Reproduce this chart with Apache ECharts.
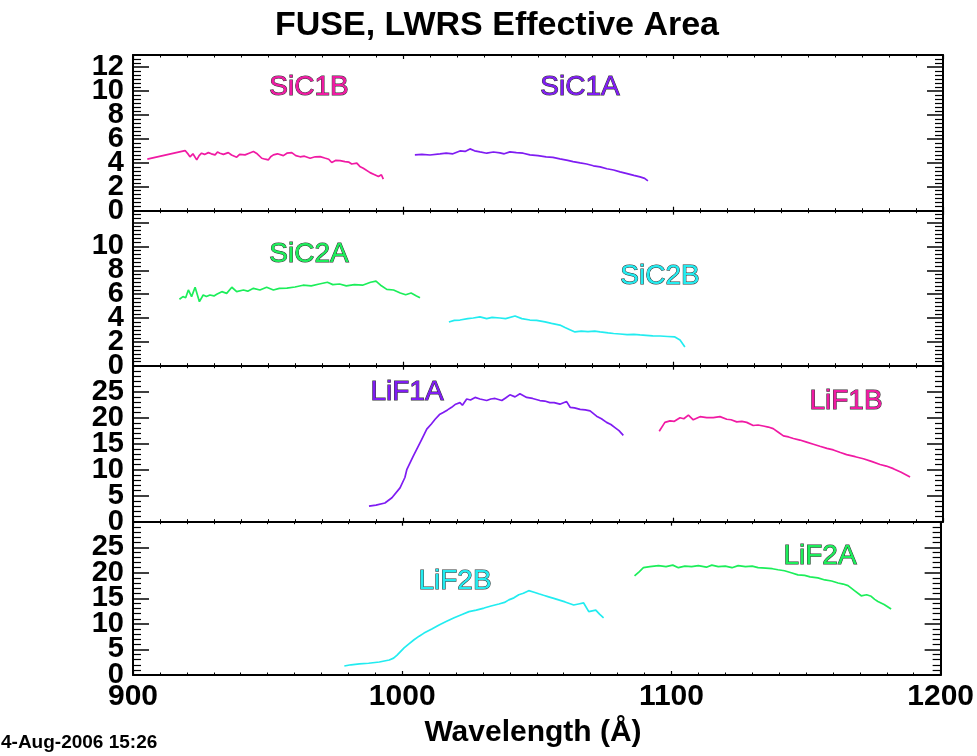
<!DOCTYPE html>
<html>
<head>
<meta charset="utf-8">
<script src="https://cdn.jsdelivr.net/npm/echarts@6/dist/echarts.min.js"></script>
<style>html,body{margin:0;padding:0;background:#fff}#c{width:977px;height:756px}</style>
</head>
<body>
<div id="c"></div>
<script>
// ---- data (wavelength in Å, effective area in cm^2) ----
const sic1b = [[905.3,4.30],[919.3,5.02],[920.5,4.7],[921.1,4.5],[922.2,4.75],[923.6,4.24],[924.5,4.6],[925.4,4.8],[926.5,4.7],[927.9,4.85],[929,4.75],[930.4,4.66],[931.3,4.9],[932.2,4.8],[933.5,4.7],[935.3,4.85],[936.5,4.65],[938.4,4.47],[939.5,4.7],[941.5,4.66],[943,4.8],[944.6,4.94],[946,4.75],[947.7,4.38],[949,4.3],[950.1,4.24],[951,4.5],[952,4.66],[953.5,4.75],[955.7,4.6],[957,4.8],[958.8,4.85],[960.3,4.6],[961.9,4.5],[963.5,4.55],[965.6,4.38],[967.5,4.5],[969.3,4.52],[971,4.4],[972.5,4.3],[973.6,4.02],[975,4.2],[976.7,4.18],[978.5,4.1],[980,4.05],[981,3.9],[982.9,3.97],[984,3.7],[985.3,3.55],[987.8,3.18],[989.5,3.0],[990.9,2.85],[992,3.0],[992.7,2.63]];
const sic1a = [[1004.4,4.66],[1007,4.7],[1010,4.65],[1013.7,4.74],[1016,4.8],[1018.5,4.75],[1021.1,4.99],[1023,4.95],[1024.8,5.16],[1026.5,5.0],[1028.5,4.91],[1031,4.8],[1033.5,4.9],[1035.9,4.83],[1037.5,4.75],[1039.6,4.91],[1042,4.85],[1044.5,4.8],[1047,4.66],[1050,4.6],[1053,4.5],[1055.5,4.45],[1058.1,4.33],[1061,4.2],[1063,4.1],[1065.6,3.99],[1068,3.9],[1070.5,3.75],[1073,3.66],[1075.5,3.5],[1078,3.4],[1080.4,3.24],[1083,3.1],[1085.5,2.95],[1087.8,2.82],[1089.5,2.7],[1090.7,2.49]];
const sic2a = [[917.2,5.57],[918.5,5.8],[919.5,5.7],[920.5,6.35],[921.7,5.79],[923,6.58],[924.6,5.37],[926,5.93],[927.2,5.8],[928.5,5.93],[930,5.85],[931,5.99],[932.9,6.21],[934.7,6.07],[936.6,6.58],[938.4,6.21],[940.9,6.35],[942.5,6.25],[944.6,6.49],[947,6.35],[949.5,6.58],[952,6.35],[954.2,6.49],[957,6.5],[960,6.6],[963,6.75],[966,6.7],[969,6.85],[972,7.0],[974,6.8],[976.5,6.85],[979,6.7],[982,6.8],[985,6.75],[988,7.0],[990,7.1],[992,6.7],[994,6.4],[996.5,6.35],[999,6.1],[1001,5.95],[1003,6.1],[1005,5.85],[1006.3,5.7]];
const sic2b = [[1017,3.67],[1019,3.8],[1021.1,3.83],[1024,3.95],[1026,4.0],[1028.5,4.09],[1031,3.95],[1033,4.05],[1035.9,4.0],[1038,3.95],[1041.5,4.17],[1044,3.95],[1047,3.83],[1049.5,3.8],[1052.6,3.67],[1055,3.55],[1058.1,3.41],[1060,3.2],[1062,3.0],[1063.7,2.83],[1066,2.9],[1068.5,2.85],[1071,2.9],[1073,2.83],[1076,2.75],[1078,2.7],[1080.4,2.66],[1083,2.6],[1085.5,2.62],[1087.8,2.58],[1090,2.55],[1092.5,2.5],[1095.2,2.49],[1098,2.45],[1100.7,2.41],[1102.6,2.16],[1104.4,1.57]];
const lif1a = [[987.4,3.0],[990,3.2],[993.3,3.6],[995.9,4.6],[998.9,6.5],[1000.7,8.5],[1001.4,10.0],[1003.8,12.6],[1006.9,15.8],[1008.8,17.8],[1010.5,18.8],[1011.9,19.7],[1013.5,20.6],[1014.9,21.0],[1016.5,21.5],[1018,22.0],[1019.5,22.6],[1021.1,22.9],[1022,22.4],[1023.6,23.6],[1025,23.4],[1026.7,23.9],[1028.5,23.6],[1031,23.3],[1032.5,23.6],[1034.1,23.7],[1036.6,23.3],[1038,23.8],[1039.6,24.4],[1041.5,24.0],[1043.3,24.6],[1045.8,23.9],[1048,23.7],[1050.7,23.3],[1052.5,23.2],[1054.4,22.9],[1056,22.9],[1058.1,22.6],[1060.6,23.1],[1061.9,22.0],[1063.5,21.9],[1065.6,21.6],[1067.5,21.5],[1069.3,21.3],[1071.7,20.3],[1073.5,19.8],[1075.4,19.1],[1077,18.7],[1078.5,18.1],[1080,17.5],[1081.6,16.6]];
const lif1b = [[1094.9,17.4],[1097,19.1],[1098.9,19.4],[1100.5,19.3],[1102.6,20.0],[1104,19.8],[1105.7,20.5],[1107.5,19.6],[1110,20.2],[1112.5,20.0],[1114.9,20.0],[1117.4,20.2],[1119.9,19.7],[1121.5,19.6],[1123.6,19.2],[1125.5,19.3],[1127.3,19.1],[1129.7,18.5],[1131.5,18.6],[1133.4,18.4],[1135.3,18.2],[1137.1,17.9],[1139,17.2],[1140.9,16.5],[1142.8,16.3],[1144.6,16.0],[1147,15.7],[1149.5,15.3],[1152,14.9],[1154.4,14.5],[1157,14.1],[1159.4,13.8],[1162,13.3],[1164.3,12.9],[1167.5,12.5],[1170.5,12.1],[1173.5,11.6],[1176.7,11.0],[1179,10.7],[1181.6,10.2],[1184.5,9.5],[1187.8,8.6]];
const lif2b = [[978.5,1.76],[981,2.0],[984.1,2.16],[987.5,2.3],[991.5,2.55],[995.2,2.94],[996.8,3.3],[998.1,3.9],[1000.7,5.3],[1002.5,6.1],[1004.4,6.9],[1006.3,7.6],[1008.1,8.2],[1011,9.0],[1013.7,9.8],[1016.5,10.5],[1019.3,11.2],[1022,11.8],[1024.8,12.4],[1027.5,12.7],[1030.4,13.1],[1033,13.5],[1035.9,13.9],[1038,14.2],[1039.6,14.7],[1041.5,15.1],[1043.3,15.7],[1045,16.0],[1047,16.5],[1049,16.2],[1050.7,15.9],[1052.5,15.6],[1054.4,15.3],[1056.3,15.0],[1058.1,14.7],[1060.5,14.3],[1063.7,13.7],[1065.5,13.9],[1067.4,14.1],[1069.3,12.4],[1071.9,12.7],[1073.3,11.9],[1074.8,11.2]];
const lif2a = [[1086.3,19.4],[1088,20.2],[1089.6,21.0],[1092,21.2],[1095.2,21.4],[1098,21.2],[1100.5,21.5],[1102.6,21.0],[1105,21.3],[1107.5,21.2],[1110,21.4],[1113,21.1],[1115,21.5],[1117.4,21.2],[1120,21.3],[1122.5,21.0],[1124.8,21.4],[1127.5,21.2],[1130,21.3],[1132.2,21.0],[1135,20.9],[1137.5,20.8],[1139.6,20.6],[1142,20.4],[1144.5,20.0],[1147,19.6],[1149.5,19.5],[1151.5,19.2],[1154.4,19.0],[1157,18.6],[1159.5,18.4],[1161.9,18.0],[1163.8,17.8],[1165.6,17.5],[1168,16.5],[1170.5,15.5],[1172.5,15.7],[1174.2,15.4],[1175.5,14.8],[1176.7,14.4],[1179,13.8],[1181.6,12.9]];

const xTicks = [900, 1000, 1100, 1200];
const panelYMax = [13, 13, 30, 30];
const panelYStep = [2, 2, 5, 5];
const panelLastLabel = [12, 10, 25, 25];
const seriesNames = ['SiC1B','SiC1A','SiC2A','SiC2B','LiF1A','LiF1B','LiF2B','LiF2A'];
const seriesData = [sic1b, sic1a, sic2a, sic2b, lif1a, lif1b, lif2b, lif2a];
const seriesPanel = [0, 0, 1, 1, 2, 2, 3, 3];

// ---- styling ----
const colMag = '#f01aa3', colPur = '#7f1cf2', colGrn = '#1cee5a', colCyn = '#22ecf0';
const seriesColors = [colMag, colPur, colGrn, colCyn, colPur, colMag, colCyn, colGrn];
const labelPos = [[309,87],[580,87],[309,254],[660,276],[407,392],[846,401],[455,581],[820,556]];
const FONT = '"Liberation Sans", Arial, Helvetica, sans-serif';
const gridTops = [55, 210.7, 365.7, 521.7];
const gridHeights = [155.7, 155, 156, 153.3];
const yLabelStyle = {fontSize: 29, fontWeight: 'bold', fontFamily: FONT, color: '#000', margin: 9, hideOverlap: false};

const grids = [], xAxes = [], yAxes = [], series = [];
for (let p = 0; p < 4; p++) {
  grids.push({left: 133, width: 810, top: gridTops[p], height: gridHeights[p], containLabel: false});
  const isBottom = p === 3;
  ['bottom','top'].forEach((pos, k) => {
    xAxes.push({
      type: 'value', gridIndex: p, position: pos, min: xTicks[0], max: xTicks[xTicks.length-1], interval: 100,
      axisLine: {show: true, onZero: false, lineStyle: {color: '#000', width: 2}},
      axisTick: {show: true, inside: true, length: 4, lineStyle: {color: '#000', width: 1.2}},
      minorTick: {show: true, splitNumber: 10, length: 2.5, lineStyle: {color: '#000', width: 1}},
      splitLine: {show: false},
      axisLabel: {show: isBottom && k === 0, fontSize: 30, fontWeight: 'bold', fontFamily: FONT, color: '#000', margin: 7,
        hideOverlap: false, showMinLabel: true, showMaxLabel: true, formatter: (v) => String(v)}
    });
  });
  // main left axis (labels except 0), right mirror axis (no labels)
  ['left','right'].forEach((pos, k) => {
    yAxes.push({
      type: 'value', gridIndex: p, position: pos, min: 0, max: panelYMax[p], interval: panelYStep[p],
      axisLine: {show: true, onZero: false, lineStyle: {color: '#000', width: 2}},
      axisTick: {show: true, inside: true, length: 16, lineStyle: {color: '#000', width: 1.5}},
      minorTick: {show: true, splitNumber: p < 2 ? 6 : 5, length: 8, lineStyle: {color: '#000', width: 1.2}},
      splitLine: {show: false},
      axisLabel: Object.assign({show: k === 0, showMinLabel: false, showMaxLabel: false,
        formatter: (v) => (v === 0 || v > panelLastLabel[p] ? '' : String(v))}, yLabelStyle)
    });
  });
  // helper left axis carrying only the "0" label
  yAxes.push({
    type: 'value', gridIndex: p, position: 'left', min: 0, max: panelYMax[p], interval: panelYMax[p],
    axisLine: {show: false}, axisTick: {show: false}, splitLine: {show: false},
    axisLabel: Object.assign({show: true, showMinLabel: true, showMaxLabel: false,
      formatter: (v) => (v === 0 ? '0' : '')}, yLabelStyle)
  });
}
seriesData.forEach((d, i) => {
  const p = seriesPanel[i];
  series.push({
    name: seriesNames[i], type: 'line', xAxisIndex: p * 2, yAxisIndex: p * 3, data: d,
    showSymbol: false, symbol: 'none', lineStyle: {color: seriesColors[i], width: 1.7}, animation: false, z: 5
  });
});

const graphics = [
  {type: 'text', x: 497, y: 26, style: {text: 'FUSE, LWRS Effective Area', font: 'bold 34px ' + FONT, fill: '#000', textAlign: 'center', textVerticalAlign: 'middle'}},
  {type: 'text', x: 533, y: 733, style: {text: 'Wavelength (Å)', font: 'bold 30px ' + FONT, fill: '#000', textAlign: 'center', textVerticalAlign: 'middle'}},
  {type: 'text', x: 1, y: 743, style: {text: '4-Aug-2006 15:26', font: 'bold 19px ' + FONT, fill: '#000', textAlign: 'left', textVerticalAlign: 'middle'}}
];
seriesNames.forEach((n, i) => {
  graphics.push({type: 'text', x: labelPos[i][0], y: labelPos[i][1], z: 10,
    style: {text: n, font: '28px ' + FONT, fill: seriesColors[i], stroke: '#333', lineWidth: 1,
      textAlign: 'center', textVerticalAlign: 'middle'}});
});

const chart = echarts.init(document.getElementById('c'), null, {renderer: 'canvas'});
chart.setOption({
  animation: false, backgroundColor: '#fff',
  grid: grids, xAxis: xAxes, yAxis: yAxes, series: series, graphic: graphics
});
</script>
</body>
</html>
